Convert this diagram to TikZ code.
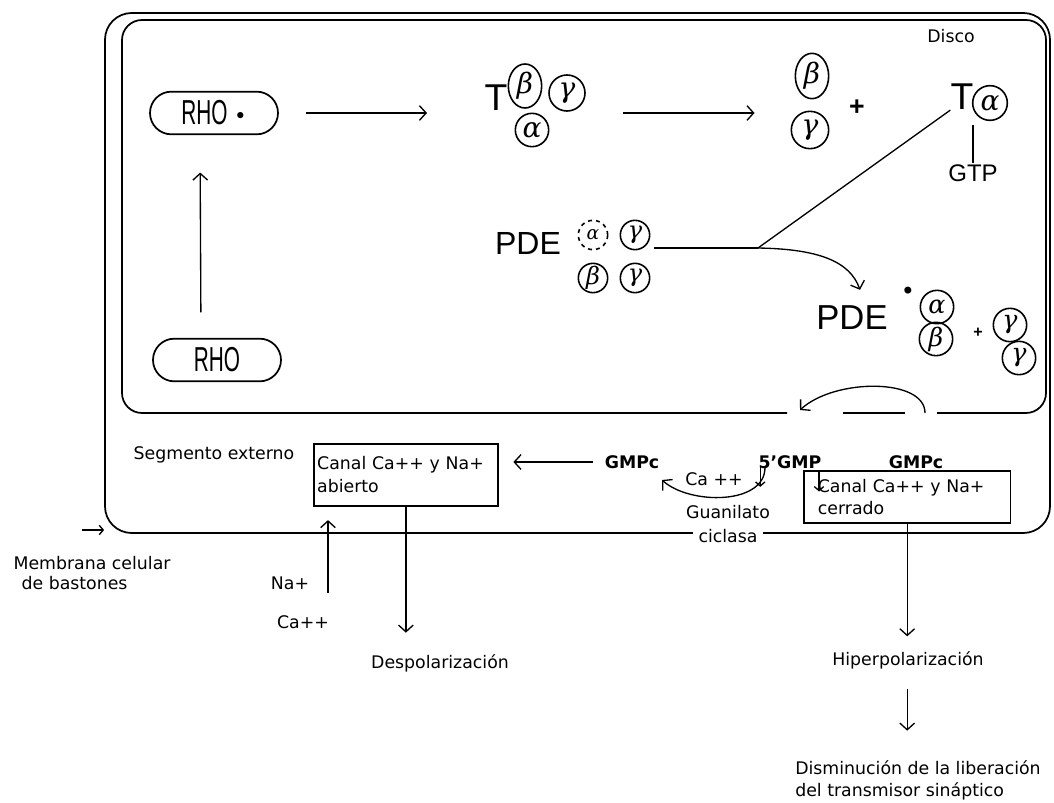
\documentclass[tikz,border=0pt]{standalone}
\usepackage{fontspec}
\setmainfont{DejaVu Sans}
\newfontfamily\libsans{Liberation Sans}
\newfontfamily\grk{DejaVu Serif}
\usetikzlibrary{arrows.meta,shapes.misc,shapes.geometric}
\tikzset{
  lbl/.style={font=\fontsize{13}{17}\selectfont, inner sep=1pt},
  bigl/.style={font=\libsans\fontsize{24}{24}\selectfont, inner sep=0pt},
  gk/.style={circle, draw, line width=1.2pt, inner sep=0pt, minimum size=25pt, font=\grk\itshape\fontsize{21}{21}\selectfont},
  gke/.style={ellipse, draw, line width=1.2pt, inner sep=0pt, minimum width=25pt, minimum height=33pt, font=\grk\itshape\fontsize{21}{21}\selectfont},
  pill/.style={rounded rectangle, draw, line width=1.3pt, minimum width=96pt, minimum height=32pt, inner sep=0pt},
  arr/.style={-{Straight Barb[length=5pt,width=11pt,line width=1pt]}, line width=1pt},
  arrs/.style={-{Straight Barb[length=3pt,width=7pt,line width=1pt]}, line width=1pt},
  ln/.style={line width=1pt},
  boxl/.style={line width=1.3pt},
  chbox/.style={draw, boxl, align=left, font=\fontsize{13}{17}\selectfont},
  blob/.style={font=\fontsize{18}{18}\selectfont, inner sep=0pt},
}
\newcommand{\rhotxt}{\scalebox{0.6}[1]{\libsans\fontsize{26}{26}\selectfont RHO}}
\begin{document}
\begin{tikzpicture}[x=0.75pt,y=-0.75pt]
\useasboundingbox (0,0) rectangle (1054,803);

% outer cell membrane
\node[draw, boxl, rounded corners=20pt, minimum width=708.75pt, minimum height=390pt] (cell) at (577.5,273) {};
% disc
\draw[boxl, rounded corners=15pt] (787,413) -- (122,413) -- (122,20) -- (1046,20) -- (1046,413) -- (937,413);
\draw[ln] (843,413) -- (905,413);
\draw[arr] (925,413) .. controls (925,378) and (835,378) .. (800,410);
\node[lbl] (disco) at (951,36) {Disco};

% rhodopsin
\node[pill] (rhos) at (214,113) {\rhotxt\hspace{5pt}\raisebox{1pt}{\fontsize{16}{16}\selectfont •}};
\node[pill] (rho) at (217,360) {\rhotxt};
\draw[arr, shorten <=19pt, shorten >=28pt] ([xshift=-12pt]rho.north) -- ([xshift=-10.5pt]rhos.south);

% transducin
\node[font=\libsans\fontsize{28}{28}\selectfont, inner sep=0pt] (T1) at (496,98) {T};
\node[gke] (tb) at (525,86) {β};
\node[gk, minimum size=27pt] (tg) at (567,93) {γ};
\node[gk] (ta) at (532,130) {α};
\draw[arr, shorten <=20pt, shorten >=43pt] (rhos.east) -- (rhos.east -| T1.west);

\node[gke, minimum height=34pt] (b2) at (812,76) {β};
\node[gk, minimum height=28pt] (g2) at (810,130) {γ};
\node[font=\libsans\bfseries\fontsize{20}{20}\selectfont, inner sep=0pt] (plus1) at (857,108) {+};
\draw[arr, shorten <=28pt, shorten >=30pt] (tg.east |- rhos.east) -- (b2.west |- rhos.east);

\node[font=\libsans\fontsize{28}{28}\selectfont, inner sep=0pt] (T2) at (962,97) {T};
\node[gk, minimum size=26pt] (a2) at (990,103) {α};
\node[font=\libsans\fontsize{18}{18}\selectfont, inner sep=1pt] (gtp) at (973,173) {GTP};
\draw[ln] (a2.south -| gtp.north) ++(0,4) -- (gtp.north);

% PDE
\node[bigl] (pde) at (528,243) {PDE};
\node[gk, minimum size=22pt, dashed, font=\grk\itshape\fontsize{14}{14}\selectfont] (pa) at (593,235) {α};
\node[gk, minimum size=22pt, font=\grk\itshape\fontsize{18}{18}\selectfont] (pg1) at (635,235) {γ};
\node[gk, minimum size=22pt, font=\grk\itshape\fontsize{18}{18}\selectfont] (pb) at (593,278) {β};
\node[gk, minimum size=22pt, font=\grk\itshape\fontsize{18}{18}\selectfont] (pg2) at (635,278) {γ};
\coordinate (jn) at (758,248);
\draw[ln] (T2.south west) -- (jn);
\draw[ln] ([xshift=3pt]pg1.east |- jn) -- (jn);

% activated PDE
\node[font=\libsans\fontsize{26}{26}\selectfont, inner sep=0pt] (pdes) at (852,318) {PDE};
\node[blob] (star) at (908,293) {•};
\node[gk, font=\grk\itshape\fontsize{19}{19}\selectfont] (sa) at (937,307) {α};
\node[gk, font=\grk\itshape\fontsize{19}{19}\selectfont] (sb) at (936,339) {β};
\node[font=\libsans\bfseries\fontsize{12}{12}\selectfont, inner sep=0pt] (plus2) at (978,333) {+};
\node[gk, font=\grk\itshape\fontsize{19}{19}\selectfont] (sg1) at (1010,325) {γ};
\node[gk, font=\grk\itshape\fontsize{19}{19}\selectfont] (sg2) at (1019,358) {γ};
\draw[arr] (jn) .. controls (820,249) and (850,262) .. ([xshift=6pt,yshift=12pt]pdes.north);

% outer segment
\node[lbl] (seg) at (214,455) {Segmento externo};
\node[chbox, anchor=north west, text width=133pt, inner xsep=2.5pt, minimum height=46.5pt] (boxa) at (313,443) {Canal Ca++ y Na+\\abierto};
\node[lbl, font=\bfseries\fontsize{13}{17}\selectfont] (gmpc1) at (632,462) {GMPc};
\draw[arr, shorten <=8pt, shorten >=11pt] (gmpc1.west) -- (gmpc1.west -| boxa.east);

\node[lbl, font=\bfseries\fontsize{13}{17}\selectfont] (gmp5) at (790,462) {5'GMP};
\node[lbl, font=\bfseries\fontsize{13}{17}\selectfont] (gmpc2) at (916,462) {GMPc};
\node[lbl] (caa) at (714,479) {Ca ++};
\draw[arrs] ([xshift=12pt,yshift=3pt]caa.north east) -- ++(0,20);
\draw[arr] ([xshift=6pt,yshift=2pt]gmp5.south west) .. controls (765,505) and (690,505) .. (662,480);
\draw[arrs] ([xshift=-3pt,yshift=-1pt]gmp5.south east) -- ++(0,20);
\node[lbl] (guan) at (728,512) {Guanilato};
\node[lbl, fill=white, inner xsep=4pt] (cicl) at (728,536) {ciclasa};

\node[chbox, anchor=north west, text width=134pt, inner xsep=10.5pt, minimum height=39pt] (boxc) at (803,470) {Canal Ca++ y Na+\\cerrado};

% membrane label
\node[lbl, anchor=west] (mem1) at (12,563) {Membrana celular};
\node[lbl, anchor=west] (mem2) at (20,583) {de bastones};
\coordinate (memp) at (82,530);
\draw[arrs] (memp) -- (memp -| cell.west);

% ions
\node[lbl] (na) at (290,583) {Na+};
\node[lbl] (ca) at (303,622) {Ca++};
\coordinate (nain) at (328,593);
\draw[arr, shorten >=10pt] (nain) -- (nain |- boxa.south);

% results
\node[lbl] (desp) at (440,663) {Despolarización};
\draw[arr, shorten >=15pt] (boxa.south) -- (boxa.south |- desp.north);
\node[lbl] (hiper) at (908,660) {Hiperpolarización};
\draw[arr, shorten >=10pt] (boxc.south) -- (boxc.south |- hiper.north);
\node[lbl, anchor=north west, align=left, inner sep=0pt, font=\fontsize{13}{17}\selectfont] (dism) at (795,760) {Disminución de la liberación\\del transmisor sináptico};
\draw[arr, shorten <=14pt, shorten >=22pt] (boxc.south |- hiper.south) -- (boxc.south |- dism.north);
\end{tikzpicture}
\end{document}
